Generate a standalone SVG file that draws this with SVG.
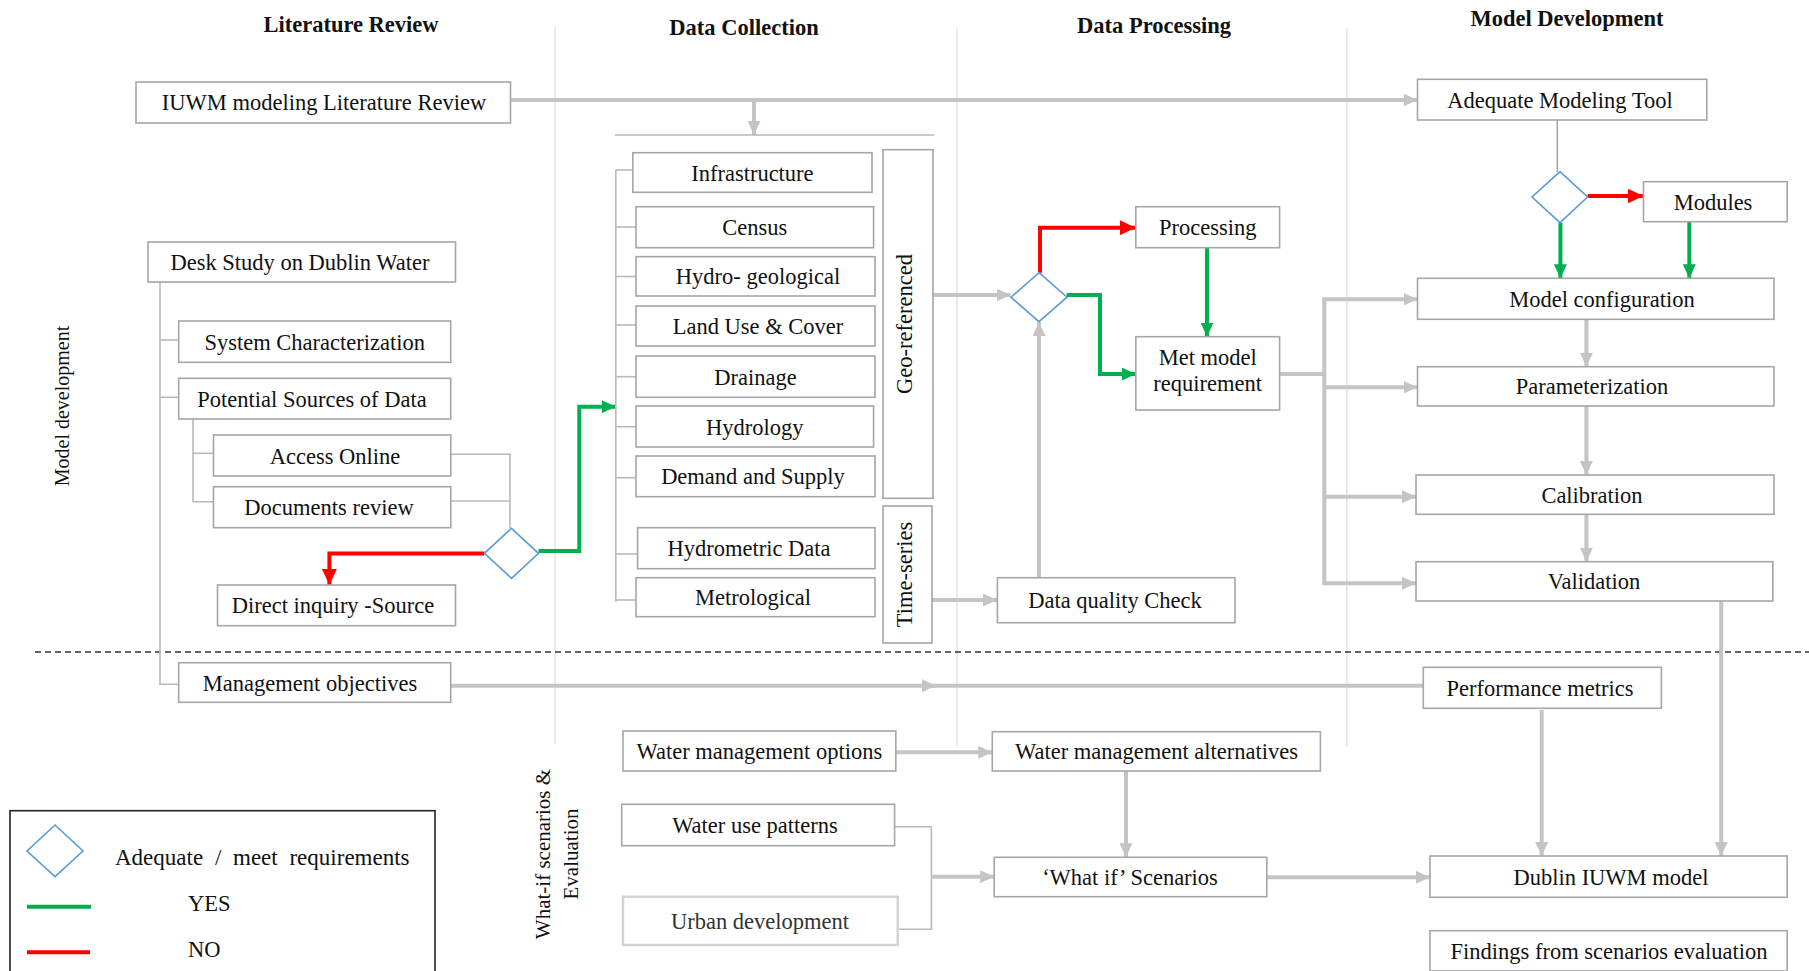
<svg xmlns="http://www.w3.org/2000/svg" width="1809" height="971" viewBox="0 0 1809 971">
<style>
.bx{fill:#fff;stroke:#a6a6a6;stroke-width:1.6}
.t{font-family:"Liberation Serif","Times New Roman",serif;font-size:22.5px;fill:#111;text-anchor:middle}
.h{font-family:"Liberation Serif","Times New Roman",serif;font-size:22.5px;font-weight:bold;fill:#111;text-anchor:middle}
.dv{stroke:#dcdcdc;stroke-width:1.2;fill:none}
.th{stroke:#c4c4c4;stroke-width:4;fill:none}
.tn{stroke:#b9b9b9;stroke-width:1.6;fill:none}
.g{stroke:#00b050;stroke-width:4;fill:none}
.r{stroke:#ff0000;stroke-width:4;fill:none}
.dm{fill:#fff;stroke:#5b9bd5;stroke-width:1.6}
</style>
<defs>
<marker id="ag" viewBox="0 0 14 13" refX="14" refY="6.5" markerWidth="14" markerHeight="13" markerUnits="userSpaceOnUse" orient="auto"><path d="M0,0 L14,6.5 L0,13 z" fill="#c4c4c4"/></marker>
<marker id="agr" viewBox="0 0 14 13" refX="14" refY="6.5" markerWidth="14" markerHeight="13" markerUnits="userSpaceOnUse" orient="auto"><path d="M0,0 L14,6.5 L0,13 z" fill="#00b050"/></marker>
<marker id="ar" viewBox="0 0 16 15" refX="16" refY="7.5" markerWidth="16" markerHeight="15" markerUnits="userSpaceOnUse" orient="auto"><path d="M0,0 L16,7.5 L0,15 z" fill="#ff0000"/></marker>
</defs>
<rect width="1809" height="971" fill="#fff"/>

<g id="lanes">
<line class="dv" x1="555" y1="27" x2="555" y2="744"/>
<line class="dv" x1="957" y1="28" x2="957" y2="747"/>
<line class="dv" x1="1346.8" y1="28" x2="1346.8" y2="747"/>
<line x1="35" y1="652" x2="1809" y2="652" stroke="#333" stroke-width="1.5" stroke-dasharray="6,4"/>
<text class="h" x="351" y="31.5">Literature Review</text>
<text class="h" x="744" y="35">Data Collection</text>
<text class="h" x="1154" y="33">Data Processing</text>
<text class="h" x="1567" y="26">Model Development</text>
<text class="t" style="font-size:20px" transform="translate(69,406) rotate(-90)">Model development</text>
<text class="t" style="font-size:21px" transform="translate(550,854) rotate(-90)">What-if scenarios &amp;</text>
<text class="t" style="font-size:21px" transform="translate(578,854) rotate(-90)">Evaluation</text>
</g>

<g id="connectors">
<!-- literature review -->
<line class="th" x1="510.5" y1="100" x2="1417.5" y2="100" marker-end="url(#ag)"/>
<line class="th" x1="754" y1="100" x2="754" y2="135" marker-end="url(#ag)"/>
<line class="tn" x1="615" y1="135" x2="934" y2="135" stroke-width="2"/>
<polyline class="tn" points="160,282 160,684.3 178.7,684.3"/>
<line class="tn" x1="160" y1="340" x2="178.7" y2="340"/>
<line class="tn" x1="160" y1="397.3" x2="178.7" y2="397.3"/>
<polyline class="tn" points="193,419 193,501.7 213.5,501.7"/>
<line class="tn" x1="193" y1="453.3" x2="213.5" y2="453.3"/>
<polyline class="tn" points="450.8,454.3 510,454.3 510,528.3"/>
<line class="tn" x1="450.8" y1="501" x2="510" y2="501"/>
<polyline class="r" points="484.4,553.5 329.4,553.5 329.4,585" marker-end="url(#ar)"/>
<polyline class="g" points="538.5,551 579.3,551 579.3,406.7 615.8,406.7" marker-end="url(#agr)"/>
<!-- data collection bracket -->
<line class="tn" x1="615.8" y1="170" x2="615.8" y2="601.7"/>
<line class="tn" x1="615.8" y1="170" x2="632.8" y2="170"/>
<line class="tn" x1="615.8" y1="227" x2="636" y2="227"/>
<line class="tn" x1="615.8" y1="276.5" x2="636" y2="276.5"/>
<line class="tn" x1="615.8" y1="325" x2="636" y2="325"/>
<line class="tn" x1="615.8" y1="376.7" x2="636" y2="376.7"/>
<line class="tn" x1="615.8" y1="426.7" x2="636" y2="426.7"/>
<line class="tn" x1="615.8" y1="477.7" x2="636" y2="477.7"/>
<line class="tn" x1="615.8" y1="554" x2="637.6" y2="554"/>
<line class="tn" x1="615.8" y1="600" x2="636" y2="600"/>
<!-- data processing -->
<line class="th" x1="933" y1="295" x2="1010.5" y2="295" marker-end="url(#ag)"/>
<line class="th" x1="932" y1="600" x2="997" y2="600" marker-end="url(#ag)"/>
<line class="th" x1="1039" y1="577.7" x2="1039" y2="322" marker-end="url(#ag)"/>
<polyline class="r" points="1040,272.7 1040,227.7 1135.8,227.7" marker-end="url(#ar)"/>
<polyline class="g" points="1066.6,295 1100,295 1100,374 1135.8,374" marker-end="url(#agr)"/>
<line class="g" x1="1207" y1="247.7" x2="1207" y2="336.7" marker-end="url(#agr)"/>
<line class="th" x1="1279.6" y1="374" x2="1324.3" y2="374"/>
<line class="th" x1="1324.3" y1="299.3" x2="1324.3" y2="583.3"/>
<line class="th" x1="1322.3" y1="299.3" x2="1417.5" y2="299.3" marker-end="url(#ag)"/>
<line class="th" x1="1324.3" y1="387.3" x2="1417.5" y2="387.3" marker-end="url(#ag)"/>
<line class="th" x1="1324.3" y1="496.7" x2="1416" y2="496.7" marker-end="url(#ag)"/>
<line class="th" x1="1322.3" y1="583.3" x2="1416" y2="583.3" marker-end="url(#ag)"/>
<!-- model development -->
<line x1="1557.3" y1="120" x2="1557.3" y2="172" stroke="#a6a6a6" stroke-width="1.6"/>
<line class="r" x1="1587.6" y1="196" x2="1643.5" y2="196" marker-end="url(#ar)"/>
<line class="g" x1="1560.4" y1="222.7" x2="1560.4" y2="278.3" marker-end="url(#agr)"/>
<line class="g" x1="1689.3" y1="221.7" x2="1689.3" y2="278.3" marker-end="url(#agr)"/>
<line class="th" x1="1586.4" y1="319.3" x2="1586.4" y2="366.7" marker-end="url(#ag)"/>
<line class="th" x1="1586.4" y1="406" x2="1586.4" y2="475" marker-end="url(#ag)"/>
<line class="th" x1="1586.4" y1="514.3" x2="1586.4" y2="561.7" marker-end="url(#ag)"/>
<line class="th" x1="1721.2" y1="601" x2="1721.2" y2="856" marker-end="url(#ag)"/>
<line class="th" x1="1541.7" y1="710" x2="1541.7" y2="856" marker-end="url(#ag)"/>
<!-- scenarios -->
<line class="th" x1="450.8" y1="685.7" x2="936" y2="685.7" marker-end="url(#ag)"/>
<line class="th" x1="930" y1="685.7" x2="1423.3" y2="685.7"/>
<line class="th" x1="895.8" y1="752.3" x2="992.3" y2="752.3" marker-end="url(#ag)"/>
<polyline class="tn" points="894.6,826.7 931.4,826.7 931.4,929.3 898.5,929.3"/>
<line class="th" x1="931.4" y1="876.7" x2="994.2" y2="876.7" marker-end="url(#ag)"/>
<line class="th" x1="1126" y1="771" x2="1126" y2="857.3" marker-end="url(#ag)"/>
<line class="th" x1="1266.8" y1="877.3" x2="1430" y2="877.3" marker-end="url(#ag)"/>
</g>

<g id="n-iuwm"><rect class="bx" x="136" y="82" width="374.5" height="41"/><text class="t" x="324" y="110">IUWM modeling Literature Review</text></g>
<g id="n-desk"><rect class="bx" x="148" y="242" width="307.5" height="40"/><text class="t" x="300" y="270">Desk Study on Dublin Water</text></g>
<g id="n-syschar"><rect class="bx" x="178.7" y="321" width="272" height="41.3"/><text class="t" x="314.7" y="349.5">System Characterization</text></g>
<g id="n-potential"><rect class="bx" x="178.7" y="378.3" width="272" height="40.7"/><text class="t" x="312" y="406.5">Potential Sources of Data</text></g>
<g id="n-access"><rect class="bx" x="213.5" y="435" width="237.3" height="41"/><text class="t" x="335" y="463.5">Access Online</text></g>
<g id="n-docs"><rect class="bx" x="213.5" y="486.7" width="237.3" height="41"/><text class="t" x="329" y="515">Documents review</text></g>
<g id="n-dec1"><polygon class="dm" points="511.5,528.3 538.5,553.3 511.5,578.3 484.4,553.3"/></g>
<g id="n-direct"><rect class="bx" x="217.5" y="585" width="238" height="40.7"/><text class="t" x="333" y="613">Direct inquiry -Source</text></g>
<g id="n-mgmt"><rect class="bx" x="178.7" y="662.7" width="272" height="39.6"/><text class="t" x="310" y="690.5">Management objectives</text></g>

<g id="n-infra"><rect class="bx" x="632.8" y="152.7" width="239.2" height="39.6"/><text class="t" x="752.4" y="180.5">Infrastructure</text></g>
<g id="n-census"><rect class="bx" x="636" y="206.7" width="237.6" height="41"/><text class="t" x="754.8" y="235">Census</text></g>
<g id="n-hydrogeo"><rect class="bx" x="636" y="256.7" width="239" height="39.3"/><text class="t" x="758" y="284">Hydro- geological</text></g>
<g id="n-landuse"><rect class="bx" x="636" y="306" width="239" height="40"/><text class="t" x="758" y="334">Land Use &amp; Cover</text></g>
<g id="n-drainage"><rect class="bx" x="636" y="356" width="239" height="41.3"/><text class="t" x="755.5" y="384.5">Drainage</text></g>
<g id="n-hydrology"><rect class="bx" x="636" y="406" width="237.6" height="41"/><text class="t" x="754.8" y="434.5">Hydrology</text></g>
<g id="n-demand"><rect class="bx" x="636" y="456" width="239" height="40.7"/><text class="t" x="753" y="484">Demand and Supply</text></g>
<g id="n-hydrometric"><rect class="bx" x="637.6" y="527.7" width="237.4" height="41"/><text class="t" x="749" y="556">Hydrometric Data</text></g>
<g id="n-metro"><rect class="bx" x="636" y="577.7" width="239" height="39"/><text class="t" x="753" y="605">Metrological</text></g>
<g id="n-geo"><rect class="bx" x="883" y="149.7" width="50" height="348.6"/><text class="t" transform="translate(912,324) rotate(-90)">Geo-referenced</text></g>
<g id="n-time"><rect class="bx" x="883" y="506" width="49" height="137"/><text class="t" transform="translate(912,574.5) rotate(-90)">Time-series</text></g>

<g id="n-dec2"><polygon class="dm" points="1039,272.7 1067,297.2 1039,321.7 1011,297.2"/></g>
<g id="n-processing"><rect class="bx" x="1135.8" y="206.7" width="143.8" height="41"/><text class="t" x="1207.7" y="235">Processing</text></g>
<g id="n-met"><rect class="bx" x="1135.8" y="336.7" width="143.8" height="73.3"/><text class="t" x="1207.7" y="365">Met model</text><text class="t" x="1207.7" y="391">requirement</text></g>
<g id="n-dqc"><rect class="bx" x="997.4" y="577.7" width="237.6" height="45"/><text class="t" x="1115" y="608">Data quality Check</text></g>

<g id="n-amt"><rect class="bx" x="1417.5" y="79.3" width="289.3" height="40.7"/><text class="t" x="1560" y="107.5">Adequate Modeling Tool</text></g>
<g id="n-dec3"><polygon class="dm" points="1560,171.7 1587.6,197 1560,222.7 1532,197"/></g>
<g id="n-modules"><rect class="bx" x="1643.5" y="181.7" width="143.7" height="40"/><text class="t" x="1713" y="209.5">Modules</text></g>
<g id="n-config"><rect class="bx" x="1417.5" y="278.3" width="356.5" height="41"/><text class="t" x="1602" y="306.5">Model configuration</text></g>
<g id="n-param"><rect class="bx" x="1417.5" y="366.7" width="356.5" height="39.3"/><text class="t" x="1592" y="394">Parameterization</text></g>
<g id="n-calib"><rect class="bx" x="1416" y="475" width="358" height="39.3"/><text class="t" x="1592" y="502.5">Calibration</text></g>
<g id="n-valid"><rect class="bx" x="1416" y="561.7" width="356.8" height="39.3"/><text class="t" x="1594" y="589">Validation</text></g>
<g id="n-perf"><rect class="bx" x="1423.3" y="667.3" width="238.1" height="41"/><text class="t" x="1540" y="695.5">Performance metrics</text></g>

<g id="n-wmo"><rect class="bx" x="623" y="731" width="272.8" height="40"/><text class="t" x="759.4" y="759">Water management options</text></g>
<g id="n-wma"><rect class="bx" x="992.3" y="731.7" width="328.1" height="39.3"/><text class="t" x="1156.5" y="759">Water management alternatives</text></g>
<g id="n-wup"><rect class="bx" x="621.7" y="804.3" width="272.9" height="41.4"/><text class="t" x="755" y="833">Water use patterns</text></g>
<g id="n-urban"><rect x="623" y="896.7" width="274.7" height="48.3" fill="#fff" stroke="#d3d3d3" stroke-width="2.5"/><text class="t" x="760" y="928.5" style="fill:#333">Urban development</text></g>
<g id="n-whatif"><rect class="bx" x="994.2" y="857.3" width="272.6" height="39.4"/><text class="t" x="1130" y="885">‘What if’ Scenarios</text></g>
<g id="n-dublin"><rect class="bx" x="1430" y="856" width="357.2" height="41.3"/><text class="t" x="1611" y="884.5">Dublin IUWM model</text></g>
<g id="n-findings"><rect class="bx" x="1430" y="930.7" width="357.2" height="40.3"/><text class="t" x="1609" y="958.5">Findings from scenarios evaluation</text></g>

<g id="legend">
<rect x="10" y="810.7" width="425" height="180" fill="none" stroke="#222" stroke-width="1.6"/>
<polygon class="dm" points="55,825 83,851 55,876.7 27,851"/>
<text class="t" x="115" y="865" style="text-anchor:start;font-size:23px;word-spacing:6px">Adequate / meet requirements</text>
<line class="g" x1="27" y1="906.7" x2="91" y2="906.7"/>
<text class="t" x="188" y="911" style="text-anchor:start">YES</text>
<line class="r" x1="27" y1="952.3" x2="90" y2="952.3"/>
<text class="t" x="188" y="957" style="text-anchor:start">NO</text>
</g>
</svg>
